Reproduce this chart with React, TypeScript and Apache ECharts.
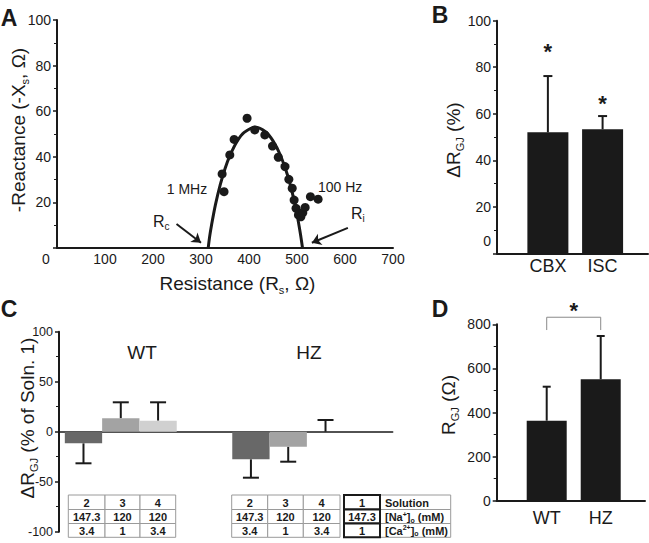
import React, { useEffect, useRef } from 'react';
import * as echarts from 'echarts';

const FONT = '"Liberation Sans", Arial, Helvetica, sans-serif';
const INK = '#1a1a1a';

// ---------- Panel A: impedance plot ----------
const A_RS = [344, 348, 360, 369, 396, 412, 433, 449, 461, 475, 483, 490, 494, 498, 503, 505, 508, 512, 517, 528, 544];
const A_XS = [32.5, 24.7, 40.8, 47.6, 56.9, 51.8, 49.6, 44.7, 39.8, 35.7, 30.1, 26.2, 21.0, 17.4, 14.5, 15.2, 13.7, 15.5, 17.8, 22.5, 21.4];
const A_FIT_RS = [315, 318, 322, 330, 340, 350, 360, 375, 390, 413, 435, 450, 465, 480, 490, 500, 505, 508, 511.5];
const A_FIT_XS = [0, 5, 10.1, 18.9, 27.7, 34.8, 40.4, 46.7, 50.7, 53, 50.9, 47, 40.9, 32.1, 24.4, 14.7, 8.9, 5, 0];
const A_RC_ARROW = [[249, 10.5], [300, 2.3]];
const A_RI_ARROW = [[606, 8.8], [531, 2.3]];

// ---------- Panel B ----------
const B_CATS = ['CBX', 'ISC'];
const B_MEAN = [52.0, 53.3];
const B_SD = [24.2, 5.7];
const B_STAR = [88.8, 66.5];

// ---------- Panel C ----------
const C_GROUPS = ['WT', 'HZ'];
const C_SOLN = ['2', '3', '4'];
const C_SOLN2 = [-11.6, -27.6];
const C_SOLN2_SD = [20.0, 18.4];
const C_SOLN3 = [13.4, -15.0];
const C_SOLN3_SD = [16.0, 15.0];
const C_SOLN4 = [11.0, 0.0];
const C_SOLN4_SD = [18.4, 11.7];
const C_NA = ['147.3', '120', '120'];
const C_CA = ['3.4', '1', '3.4'];
const REF_SOLN = ['1', '147.3', '1'];

// ---------- Panel D ----------
const D_CATS = ['WT', 'HZ'];
const D_MEAN = [362.8, 550.6];
const D_SD = [154.2, 196.4];
const D_BRACKET = [832, 774];
const D_STAR = 886;

const C_COLORS = ['#686868', '#a3a3a3', '#d0d0d0'];
const BAR_W_C = 37.3;

const lbl = (size: number) => ({ color: INK, fontFamily: FONT, fontSize: size });
const axLine = (w = 2) => ({ show: true, onZero: false, lineStyle: { color: INK, width: w } });
const ticks = { show: true, length: 4, lineStyle: { color: INK, width: 1.5 } };
const minor = { show: true, splitNumber: 2, length: 3, lineStyle: { color: INK, width: 1 } };
const noSplit = { show: false };

const makeErr = (offsetPx: number, capW: number) => (params: any, api: any) => {
  const x = api.value(0);
  const m = api.value(1);
  const e = api.value(2);
  const dir = m < 0 ? -1 : 1;
  const p0 = api.coord([x, m]);
  const p1 = api.coord([x, m + dir * e]);
  const cx = p0[0] + offsetPx;
  return {
    type: 'group',
    children: [
      { type: 'line', shape: { x1: cx, y1: p0[1], x2: cx, y2: p1[1] }, style: { stroke: INK, lineWidth: 2 } },
      { type: 'line', shape: { x1: cx - capW / 2, y1: p1[1], x2: cx + capW / 2, y2: p1[1] }, style: { stroke: INK, lineWidth: 2 } },
    ],
  };
};

const starRender = (params: any, api: any) => {
  const p = api.coord([api.value(0), api.value(1)]);
  return {
    type: 'text',
    x: p[0],
    y: p[1] + 5,
    style: { text: '*', fontSize: 22, fontWeight: 'bold', fontFamily: FONT, fill: INK, align: 'center', verticalAlign: 'middle' },
  };
};

const titleRich = {
  t: { fontSize: 19, fontFamily: FONT, fill: INK, lineHeight: 24, verticalAlign: 'middle' },
  s: { fontSize: 11, fontFamily: FONT, fill: INK, lineHeight: 12, verticalAlign: 'bottom' },
};

const txt = (text: string, x: number, y: number, size: number, extra: any = {}) => ({
  type: 'text',
  x,
  y,
  ...(extra.rotation ? { rotation: extra.rotation } : {}),
  style: {
    text,
    fontSize: size,
    fontFamily: FONT,
    fontWeight: extra.bold ? 'bold' : 'normal',
    fill: INK,
    align: extra.align || 'center',
    verticalAlign: 'middle',
    ...(extra.rich ? { rich: extra.rich } : {}),
  },
});

const ROW_Y = [495, 509.5, 523.5, 537.3];
const tableEls = (xs: number[], cols: string[][], stroke: string, lw: number, align = 'center') => {
  const els: any[] = [];
  for (let c = 0; c < cols.length; c++) {
    for (let r = 0; r < 3; r++) {
      els.push({
        type: 'rect',
        shape: { x: xs[c], y: ROW_Y[r], width: xs[c + 1] - xs[c], height: ROW_Y[r + 1] - ROW_Y[r] },
        style: { fill: '#fff', stroke, lineWidth: lw },
      });
    }
  }
  for (let c = 0; c < cols.length; c++) {
    for (let r = 0; r < 3; r++) {
      els.push({
        type: 'text',
        x: align === 'center' ? (xs[c] + xs[c + 1]) / 2 : xs[c] + 5,
        y: (ROW_Y[r] + ROW_Y[r + 1]) / 2 + 0.5,
        style: {
          text: cols[c][r],
          fontSize: 11,
          fontWeight: 'bold',
          fontFamily: FONT,
          fill: INK,
          align,
          verticalAlign: 'middle',
          rich: {
            b: { fontSize: 11, fontWeight: 'bold', fontFamily: FONT, fill: INK, lineHeight: 13, verticalAlign: 'middle' },
            p: { fontSize: 7, fontWeight: 'bold', fontFamily: FONT, fill: INK, lineHeight: 13, verticalAlign: 'top' },
            o: { fontSize: 7, fontWeight: 'bold', fontFamily: FONT, fill: INK, lineHeight: 8, verticalAlign: 'bottom' },
          },
        },
      });
    }
  }
  return els;
};

const refLabelRich = [
  '{b|Solution}',
  '{b|[Na}{p|+}{b|]}{o|o}{b| (mM)}',
  '{b|[Ca}{p|2+}{b|]}{o|o}{b| (mM)}',
];

export default function App() {
  const ref = useRef<HTMLDivElement>(null);

  useEffect(() => {
    const chart = echarts.init(ref.current as HTMLDivElement, null, { renderer: 'svg' });

    const catIdx = (arr: string[]) => arr.map((_, i) => i);

    const option: any = {
      animation: false,
      backgroundColor: '#ffffff',
      textStyle: { fontFamily: FONT },
      grid: [
        { left: 57, top: 20, width: 336, height: 228 },
        { left: 497, top: 20.7, width: 151, height: 232.6 },
        { left: 59, top: 331.7, width: 333.7, height: 200 },
        { left: 496.7, top: 324.3, width: 148.3, height: 176.4 },
      ],
      xAxis: [
        {
          gridIndex: 0, type: 'value', min: 0, max: 700, interval: 100,
          axisLine: axLine(2), axisTick: { show: false }, splitLine: noSplit,
          axisLabel: {
            ...lbl(14), margin: 4,
            formatter: (v: number) => (v === 0 ? '{z|0}' : String(v)),
            rich: { z: { ...lbl(14), padding: [0, 22, 0, 0] } },
          },
        },
        {
          gridIndex: 1, type: 'value', min: -0.93, max: 1.83,
          axisLine: axLine(2), axisTick: { show: false }, splitLine: noSplit,
          axisLabel: {
            ...lbl(18), margin: 4, customValues: catIdx(B_CATS),
            formatter: (v: number) => (Math.abs(v - Math.round(v)) < 1e-6 && B_CATS[Math.round(v)]) || '',
          },
        },
        {
          gridIndex: 2, type: 'value', min: -0.369, max: 1.624,
          axisLine: { show: true, onZero: true, lineStyle: { color: INK, width: 1.5 } },
          axisTick: { show: false }, axisLabel: { show: false }, splitLine: noSplit,
        },
        {
          gridIndex: 3, type: 'value', min: -0.926, max: 1.82,
          axisLine: axLine(2), axisTick: { show: false }, splitLine: noSplit,
          axisLabel: {
            ...lbl(18), margin: 8, customValues: catIdx(D_CATS),
            formatter: (v: number) => (Math.abs(v - Math.round(v)) < 1e-6 && D_CATS[Math.round(v)]) || '',
          },
        },
      ],
      yAxis: [
        {
          gridIndex: 0, type: 'value', min: 0, max: 100, interval: 20,
          axisLine: axLine(2), axisTick: ticks, minorTick: minor, splitLine: noSplit,
          axisLabel: { ...lbl(14), margin: 6, showMinLabel: false },
        },
        {
          gridIndex: 1, type: 'value', min: 0, max: 100, interval: 20,
          axisLine: axLine(2), axisTick: ticks, minorTick: minor, splitLine: noSplit,
          axisLabel: {
            ...lbl(14), margin: 6,
            formatter: (v: number) => (v === 0 ? '{z|0}' : String(v)),
            rich: { z: { ...lbl(14), padding: [0, 0, 24, 0] } },
          },
        },
        {
          gridIndex: 2, type: 'value', min: -100, max: 100, interval: 50,
          axisLine: axLine(2), axisTick: ticks, minorTick: minor, splitLine: noSplit,
          axisLabel: { ...lbl(12.5), margin: 6 },
        },
        {
          gridIndex: 3, type: 'value', min: 0, max: 800, interval: 200,
          axisLine: axLine(2), axisTick: ticks, minorTick: minor, splitLine: noSplit,
          axisLabel: { ...lbl(14), margin: 6 },
        },
      ],
      series: [
        // Panel A
        {
          type: 'scatter', xAxisIndex: 0, yAxisIndex: 0, symbolSize: 9,
          itemStyle: { color: INK, opacity: 1 }, data: A_RS.map((r, i) => [r, A_XS[i]]), z: 3,
        },
        {
          type: 'line', xAxisIndex: 0, yAxisIndex: 0, symbol: 'none', smooth: 0.3,
          lineStyle: { color: INK, width: 3 }, data: A_FIT_RS.map((r, i) => [r, A_FIT_XS[i]]),
          markLine: {
            silent: true, symbol: ['none', 'arrow'], symbolSize: 9,
            lineStyle: { color: INK, width: 2, type: 'solid' }, label: { show: false },
            data: [
              [{ coord: A_RC_ARROW[0] }, { coord: A_RC_ARROW[1] }],
              [{ coord: A_RI_ARROW[0] }, { coord: A_RI_ARROW[1] }],
            ],
          },
        },
        // Panel B
        {
          type: 'bar', xAxisIndex: 1, yAxisIndex: 1, barWidth: 41,
          itemStyle: { color: INK }, data: B_MEAN.map((v, i) => [i, v]),
        },
        {
          type: 'custom', xAxisIndex: 1, yAxisIndex: 1, renderItem: makeErr(0, 9),
          data: B_MEAN.map((v, i) => [i, v, B_SD[i]]),
        },
        {
          type: 'custom', xAxisIndex: 1, yAxisIndex: 1, renderItem: starRender,
          data: B_STAR.map((v, i) => [i, v]),
        },
        // Panel C
        ...[C_SOLN2, C_SOLN3, C_SOLN4].map((vals, k) => ({
          type: 'bar', name: 'Solution ' + C_SOLN[k], xAxisIndex: 2, yAxisIndex: 2,
          barWidth: BAR_W_C, barGap: '0%',
          itemStyle: { color: C_COLORS[k] }, data: vals.map((v, g) => [g, v]),
        })),
        ...[[C_SOLN2, C_SOLN2_SD], [C_SOLN3, C_SOLN3_SD], [C_SOLN4, C_SOLN4_SD]].map(([vals, sds], k) => ({
          type: 'custom', xAxisIndex: 2, yAxisIndex: 2, renderItem: makeErr((k - 1) * BAR_W_C, 16),
          data: vals.map((v, g) => [g, v, sds[g]]),
        })),
        // Panel D
        {
          type: 'bar', xAxisIndex: 3, yAxisIndex: 3, barWidth: 40,
          itemStyle: { color: INK }, data: D_MEAN.map((v, i) => [i, v]),
        },
        {
          type: 'custom', xAxisIndex: 3, yAxisIndex: 3, renderItem: makeErr(0, 8),
          data: D_MEAN.map((v, i) => [i, v, D_SD[i]]),
        },
        {
          type: 'custom', xAxisIndex: 3, yAxisIndex: 3,
          renderItem: (params: any, api: any) => {
            const a = api.coord([0, api.value(1)]);
            const b = api.coord([0, api.value(0)]);
            const c = api.coord([1, api.value(0)]);
            const d = api.coord([1, api.value(1)]);
            return {
              type: 'polyline',
              shape: { points: [a, b, c, d] },
              style: { stroke: '#8a8a8a', lineWidth: 1, fill: 'none' },
            };
          },
          data: [D_BRACKET],
        },
        {
          type: 'custom', xAxisIndex: 3, yAxisIndex: 3, renderItem: starRender,
          data: [[0.5, D_STAR]],
        },
      ],
      graphic: {
        elements: [
          // panel letters
          txt('A', 9, 17.5, 23, { bold: true }),
          txt('B', 440, 14.5, 23, { bold: true }),
          txt('C', 9, 309, 23, { bold: true }),
          txt('D', 440, 308.5, 23, { bold: true }),
          // axis titles
          txt('{t|-Reactance (-X}{s|s}{t|, Ω)}', 18, 130, 19, { rotation: Math.PI / 2, rich: titleRich }),
          txt('{t|Resistance (R}{s|s}{t|, Ω)}', 237.5, 283, 19, { rich: titleRich }),
          txt('{t|ΔR}{s|GJ}{t| (%)}', 453, 140, 19, { rotation: Math.PI / 2, rich: titleRich }),
          txt('{t|ΔR}{s|GJ}{t| (% of Soln. 1)}', 27, 418, 19, { rotation: Math.PI / 2, rich: titleRich }),
          txt('{t|R}{s|GJ}{t| (Ω)}', 448, 405, 19, { rotation: Math.PI / 2, rich: titleRich }),
          // panel A annotations
          txt('1 MHz', 187, 189.3, 14),
          txt('100 Hz', 318, 187, 14, { align: 'left' }),
          txt('{r|R}{s|c}', 153, 221, 16, {
            align: 'left',
            rich: {
              r: { fontSize: 16, fontFamily: FONT, fill: INK, lineHeight: 20, verticalAlign: 'middle' },
              s: { fontSize: 10, fontFamily: FONT, fill: INK, lineHeight: 10, verticalAlign: 'bottom' },
            },
          }),
          txt('{r|R}{s|i}', 351, 213, 16, {
            align: 'left',
            rich: {
              r: { fontSize: 16, fontFamily: FONT, fill: INK, lineHeight: 20, verticalAlign: 'middle' },
              s: { fontSize: 10, fontFamily: FONT, fill: INK, lineHeight: 10, verticalAlign: 'bottom' },
            },
          }),
          // panel C group labels
          txt(C_GROUPS[0], 142, 352, 19),
          txt(C_GROUPS[1], 309, 352, 19),
          // tables
          ...tableEls([68.3, 105, 140, 175.7], C_SOLN.map((s, i) => ['{b|' + s + '}', '{b|' + C_NA[i] + '}', '{b|' + C_CA[i] + '}']), '#9a9a9a', 1),
          ...tableEls([231.7, 267.7, 303.3, 340], C_SOLN.map((s, i) => ['{b|' + s + '}', '{b|' + C_NA[i] + '}', '{b|' + C_CA[i] + '}']), '#9a9a9a', 1),
          ...tableEls([380, 450.7], [refLabelRich], '#9a9a9a', 1, 'left'),
          ...tableEls([344, 380], [REF_SOLN.map((s) => '{b|' + s + '}')], INK, 2),
        ],
      },
    };

    chart.setOption(option);
    return () => chart.dispose();
  }, []);

  return (
    <div
      ref={ref}
      style={{ position: 'fixed', left: 0, top: 0, width: 649, height: 543, background: '#fff' }}
    />
  );
}
